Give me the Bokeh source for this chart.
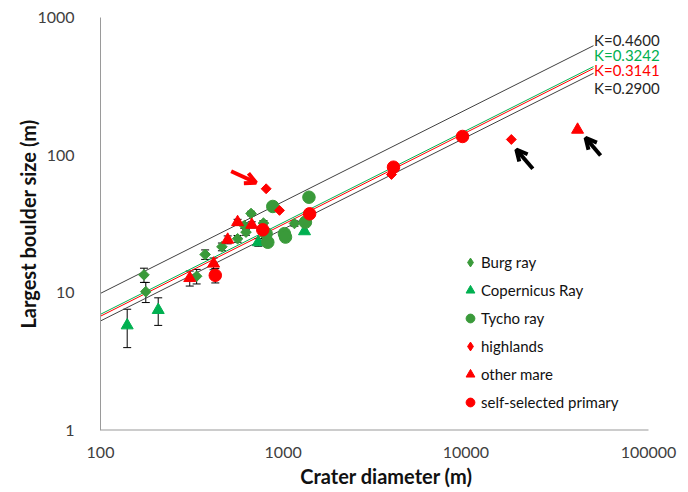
import math
from bokeh.plotting import figure
from bokeh.models import (ColumnDataSource, Range1d, FixedTicker, PrintfTickFormatter,
                          Whisker, TeeHead, Legend, LegendItem, Arrow, OpenHead, Label)
from bokeh.embed import file_html
from bokeh.resources import INLINE

# ---------------- data ----------------
burg_d = [173, 177, 336, 374, 462, 563, 613, 626, 667, 780, 1153]
burg_b = [13.5, 10.2, 13.2, 19.0, 21.6, 24.7, 30.8, 27.6, 37.7, 32.1, 31.9]
burg_err = [1.6, 1.7, 1.6, 1.5, 1.4, 1.4, 1.4, 1.4, 1.4, 1.4, 1.4]

cop_d = [140, 207, 731, 1309]
cop_b = [5.8, 7.5, 23.3, 28.0]
cop_err = [1.8, 1.7, 1.5, 0]

tycho_d = [877, 1384, 807, 824, 1016, 1030, 1324]
tycho_b = [42.4, 49.5, 26.9, 23.3, 26.9, 25.4, 32.6]

high_d = [807, 955, 3917, 17740]
high_b = [57.0, 39.7, 72.4, 130]

mare_d = [308, 416, 497, 563, 673, 40900]
mare_b = [12.8, 16.3, 24.3, 32.6, 31.2, 153]
mare_err = [1.6, 1.6, 1.6, 1.6, 1.6, 0]

prim_d = [425, 773, 1396, 4018, 9590]
prim_b = [13.4, 28.7, 37.5, 81.8, 136.7]
prim_err = [1.6, 0, 0, 0, 0]

k_values = [0.4600, 0.3242, 0.3141, 0.2900]
k_labels = ["K=0.4600", "K=0.3242", "K=0.3141", "K=0.2900"]
fit_d = [100, 50000]
fit_exp = 2.0 / 3.0

x_ticks = [100, 1000, 10000, 100000]
y_ticks = [1, 10, 100, 1000]

series_names = ["Burg ray", "Copernicus Ray", "Tycho ray", "highlands", "other mare",
                "self-selected primary"]

# ---------------- styles ----------------
FONT = "Lato"
DARK = "#404040"
AXIS_GREY = "#9a9a9a"
GREEN_D = "#3a9a3a"
GREEN_T = "#00b050"
RED = "#ff0000"
line_colors = ["#404040", "#00b050", "#ff0000", "#404040"]
label_colors = ["#262626", "#00b050", "#ff0000", "#262626"]
label_dy_px = [6, 11.5, -2, -15]
DEC_X = 182.67  # px per decade (x)
DEC_Y = 137.7   # px per decade (y)
EXTRA_RIGHT_PX = 24  # room right of the last tick for the K labels


def shift(d, b, dx, dy):
    return d * 10 ** (dx / DEC_X), b * 10 ** (-dy / DEC_Y)


x_end = x_ticks[-1] * 10 ** (EXTRA_RIGHT_PX / DEC_X)

p = figure(width=688, height=492, x_axis_type="log", y_axis_type="log",
           x_range=Range1d(x_ticks[0], x_end), y_range=Range1d(y_ticks[0], y_ticks[-1]),
           output_backend="svg", toolbar_location=None,
           min_border_left=100, min_border_right=16, min_border_top=17, min_border_bottom=62)
p.xgrid.visible = False
p.ygrid.visible = False
p.outline_line_color = None
p.background_fill_color = "white"

for ax, ticks in ((p.xaxis[0], x_ticks), (p.yaxis[0], y_ticks)):
    ax.ticker = FixedTicker(ticks=ticks, minor_ticks=[])
    ax.formatter = PrintfTickFormatter(format="%d")
    ax.major_tick_in = 0
    ax.major_tick_out = 0
    ax.minor_tick_in = 0
    ax.minor_tick_out = 0
    ax.axis_line_color = AXIS_GREY
    ax.major_label_text_font = FONT
    ax.major_label_text_font_size = "16px"
    ax.major_label_text_color = DARK
    ax.axis_label_text_font = FONT
    ax.axis_label_text_font_size = "20px"
    ax.axis_label_text_font_style = "bold"
    ax.axis_label_text_color = "#111111"

p.xaxis.axis_line_color = None  # drawn below, only up to the last tick
p.xaxis.axis_label = "Crater diameter (m)"
p.yaxis.axis_label = "Largest boulder size (m)"
p.xaxis.major_label_standoff = 16
p.xaxis.axis_label_standoff = 3
p.yaxis.major_label_standoff = 26
p.yaxis.axis_label_standoff = -6

# x-axis line from first to last tick
p.line([x_ticks[0], x_ticks[-1]], [y_ticks[0], y_ticks[0]], line_color=AXIS_GREY, line_width=2)

# fit lines
for k, c in zip(k_values, line_colors):
    p.line(fit_d, [k * d ** fit_exp for d in fit_d], line_color=c, line_width=1)

# K labels
for k, txt, col, dy in zip(k_values, k_labels, label_colors, label_dy_px):
    lx = fit_d[1] * 10 ** (0.5 / DEC_X)
    ly = k * fit_d[1] ** fit_exp * 10 ** (dy / DEC_Y)
    p.add_layout(Label(x=lx, y=ly, text=txt, text_color=col, text_font=FONT,
                       text_font_size="15px", text_align="left", text_baseline="middle"))


# error bars
def add_err(ds, bs, es):
    xs, up, lo = [], [], []
    for d, b, e in zip(ds, bs, es):
        if e > 0:
            xs.append(d)
            up.append(b + e)
            lo.append(b - e)
    src = ColumnDataSource(dict(x=xs, upper=up, lower=lo))
    w = Whisker(source=src, base="x", upper="upper", lower="lower", dimension="height",
                line_color="black", line_width=1,
                upper_head=TeeHead(size=8, line_color="black", line_width=1),
                lower_head=TeeHead(size=8, line_color="black", line_width=1))
    p.add_layout(w)


add_err(burg_d, burg_b, burg_err)
add_err(cop_d, cop_b, cop_err)
add_err(mare_d, mare_b, mare_err)
add_err(prim_d, prim_b, prim_err)

p.scatter(burg_d, burg_b, marker="square", angle=math.pi / 4, size=7.5,
          fill_color=GREEN_D, line_color=GREEN_D)
p.scatter(cop_d, cop_b, marker="triangle", size=12, fill_color=GREEN_T, line_color=GREEN_T)
p.scatter(tycho_d, tycho_b, marker="circle", size=12.5, fill_color=GREEN_D, line_color=GREEN_D)
p.scatter(high_d, high_b, marker="square", angle=math.pi / 4, size=7,
          fill_color=RED, line_color=RED)
p.scatter(mare_d, mare_b, marker="triangle", size=12, fill_color=RED, line_color=RED)
p.scatter(prim_d, prim_b, marker="circle", size=12.5, fill_color=RED, line_color=RED)

# legend-only renderers (a single NaN point, never drawn) with proper diamond markers
leg_markers = ["diamond", "triangle", "circle", "diamond", "triangle", "circle"]
leg_colors = [GREEN_D, GREEN_T, GREEN_D, RED, RED, RED]
items = []
for name, mk, col in zip(series_names, leg_markers, leg_colors):
    r = p.scatter(x=[float("nan")], y=[float("nan")], marker=mk, fill_color=col, line_color=col)
    items.append(LegendItem(label=name, renderers=[r]))

# arrows pointing at outliers
arrow_specs = [
    (high_d[0], high_b[0], (-35, -17.5), (-10, -6), RED),
    (high_d[3], high_b[3], (21.5, 29.3), (5, 10), "black"),
    (mare_d[5], mare_b[5], (23, 25.7), (8, 8), "black"),
]
for d, b, tail, tip, col in arrow_specs:
    xs, ys = shift(d, b, *tail)
    xe, ye = shift(d, b, *tip)
    p.add_layout(Arrow(x_start=xs, y_start=ys, x_end=xe, y_end=ye, line_color=col, line_width=4,
                       end=OpenHead(size=11, line_color=col, line_width=4)))

legend = Legend(items=items, location=(359, 16))
legend.border_line_color = None
legend.background_fill_alpha = 0
legend.padding = 0
legend.margin = 0
legend.spacing = 4
legend.glyph_width = 22
legend.glyph_height = 24
legend.label_height = 20
legend.label_standoff = 0
legend.label_text_font = FONT
legend.label_text_font_size = "15px"
legend.label_text_color = "#111111"
p.add_layout(legend)

open("out.html", "w").write(file_html(p, INLINE))
